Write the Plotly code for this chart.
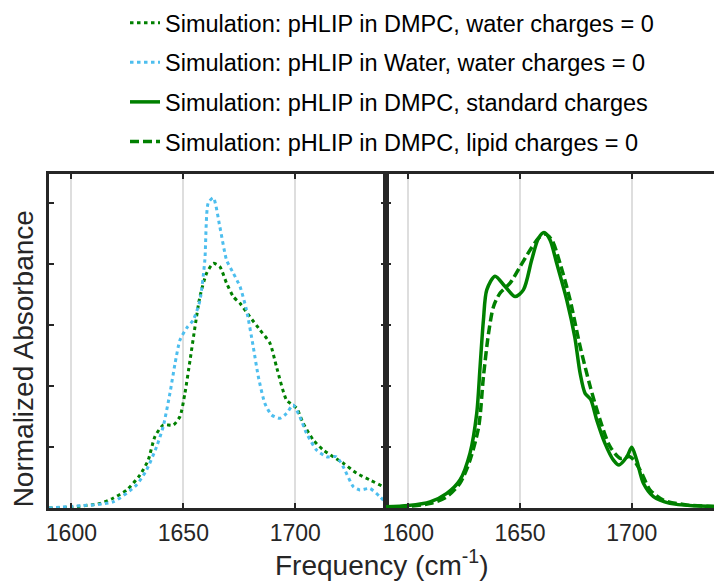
import plotly.graph_objects as go

# ---- data ----
water_x = [1590, 1600, 1618.6, 1629, 1633.6, 1638, 1641, 1644, 1646.3, 1648.5, 1651.5, 1654.4,
           1657.4, 1659.6, 1661.1, 1663.4, 1666.3, 1669.3, 1672.3, 1675.3, 1678.2, 1681.2,
           1683.5, 1686.4, 1689.4, 1693.1, 1696.1, 1699, 1702, 1705, 1709.5, 1714, 1718.4,
           1721.4, 1725.9, 1728.8, 1733.3, 1737.8, 1740.5]
water_y = [0, 0.005, 0.02, 0.075, 0.125, 0.2, 0.267, 0.376, 0.474, 0.551, 0.59, 0.616,
           0.68, 0.813, 1.0, 1.017, 0.922, 0.813, 0.77, 0.726, 0.649, 0.529,
           0.43, 0.343, 0.305, 0.294, 0.31, 0.338, 0.3, 0.245, 0.19, 0.168, 0.168,
           0.135, 0.07, 0.059, 0.064, 0.037, 0.016]

dmpc_w0_x = [1590, 1600, 1612.8, 1618.6, 1624.7, 1630.6, 1634.3, 1637.3, 1641, 1645.5, 1648.5,
             1650.7, 1653, 1655.2, 1657.4, 1660.4, 1663.4, 1666.3, 1669.3, 1672.3, 1675.3,
             1679.7, 1684.2, 1688.7, 1691.6, 1696.1, 1700.6, 1703.5, 1708, 1712.5, 1716.9,
             1721.4, 1727.4, 1733.3, 1739.3, 1740.5]
dmpc_w0_y = [0, 0.003, 0.015, 0.032, 0.059, 0.108, 0.157, 0.234, 0.272, 0.272, 0.3,
             0.376, 0.485, 0.594, 0.693, 0.77, 0.802, 0.791, 0.737, 0.693, 0.671,
             0.627, 0.584, 0.54, 0.463, 0.354, 0.327, 0.278, 0.223, 0.19, 0.168,
             0.147, 0.114, 0.092, 0.07, 0.066]

std_x = [1590, 1600, 1609.7, 1617.2, 1623.1, 1627.6, 1630.6, 1632.1, 1633.6, 1635.1, 1638.8,
         1643.3, 1647.8, 1651.5, 1655.2, 1658.2, 1660.7, 1663.4, 1666.4, 1670.9, 1674.5,
         1676.9, 1679.1, 1681.6, 1684.3, 1688, 1691.8, 1694.3, 1697.8, 1700, 1702.2,
         1705.2, 1709.7, 1717.1, 1729.1, 1737]
std_y = [0.004, 0.008, 0.02, 0.048, 0.092, 0.18, 0.31, 0.463, 0.616, 0.715, 0.76,
         0.726, 0.693, 0.715, 0.813, 0.884, 0.903, 0.879, 0.802, 0.682, 0.56,
         0.441, 0.376, 0.356, 0.289, 0.212, 0.157, 0.141, 0.168, 0.199, 0.157,
         0.081, 0.037, 0.015, 0.007, 0.005]

lip0_x = [1590, 1600, 1610, 1617.2, 1623.1, 1627.6, 1631.5, 1633.6, 1635.9, 1638.1, 1641,
          1645.5, 1650, 1654.5, 1658.2, 1661.2, 1664.2, 1667.9, 1672.4, 1676.9, 1681.4,
          1685.8, 1690.3, 1694.8, 1699.3, 1703.7, 1708.2, 1714.1, 1724.6, 1737]
lip0_y = [0.003, 0.006, 0.015, 0.037, 0.081, 0.157, 0.267, 0.43, 0.573, 0.66, 0.704,
          0.737, 0.791, 0.846, 0.884, 0.898, 0.879, 0.802, 0.682, 0.529, 0.398,
          0.289, 0.201, 0.163, 0.168, 0.125, 0.059, 0.026, 0.01, 0.005]

tick_vals = [1600, 1650, 1700]
tick_text = ["1600", "1650", "1700"]
y_ticks = [0, 0.2, 0.4, 0.6, 0.8, 1.0]

GREEN = "#008000"
BLUE = "#4DBEEE"
TXT = "#262626"
FONT = "Liberation Sans, Arial, Helvetica, sans-serif"

fig = go.Figure()
fig.add_trace(go.Scatter(x=dmpc_w0_x, y=dmpc_w0_y, mode="lines", xaxis="x", yaxis="y",
                         name="Simulation: pHLIP in DMPC, water charges = 0", legendgroup="a",
                         line=dict(color=GREEN, width=3, dash="3.5px,3.5px", shape="spline", smoothing=0.6)))
fig.add_trace(go.Scatter(x=water_x, y=water_y, mode="lines", xaxis="x", yaxis="y",
                         name="Simulation: pHLIP in Water, water charges = 0", legendgroup="b",
                         line=dict(color=BLUE, width=3, dash="3.5px,3.5px", shape="spline", smoothing=0.6)))
fig.add_trace(go.Scatter(x=std_x, y=std_y, mode="lines", xaxis="x2", yaxis="y2",
                         name="Simulation: pHLIP in DMPC, standard charges", legendgroup="c",
                         line=dict(color=GREEN, width=3.5, shape="spline", smoothing=0.8)))
fig.add_trace(go.Scatter(x=lip0_x, y=lip0_y, mode="lines", xaxis="x2", yaxis="y2",
                         name="Simulation: pHLIP in DMPC, lipid charges = 0", legendgroup="d",
                         line=dict(color=GREEN, width=3.5, dash="9px,4px", shape="spline", smoothing=0.8)))

W, H = 714, 582
ML, MR, MT, MB = 49, 0, 174, 74
PW, PH = W - ML - MR, H - MT - MB
split = 337 / PW
xcommon = dict(tickvals=tick_vals, ticktext=tick_text, ticks="inside", ticklen=5, tickwidth=2,
               tickcolor=TXT, showline=True, linecolor=TXT, linewidth=2.5, mirror="ticks",
               showgrid=True, gridcolor="#dedede", gridwidth=2, zeroline=False,
               ticklabelstandoff=3,
               tickfont=dict(family=FONT, size=23, color=TXT))
ycommon = dict(range=[0, 1.095], tickvals=y_ticks, ticks="inside", ticklen=5, tickwidth=2,
               tickcolor=TXT, showticklabels=False, showline=True, linecolor=TXT, linewidth=3,
               showgrid=False, zeroline=False)

fig.update_layout(
    width=W, height=H,
    margin=dict(l=ML, r=MR, t=MT, b=MB, autoexpand=False),
    plot_bgcolor="white", paper_bgcolor="white",
    xaxis=dict(domain=[0, split], range=[1590, 1740.5], anchor="y", **xcommon),
    xaxis2=dict(domain=[split, 1], range=[1590, 1736.8], anchor="y2", **xcommon),
    yaxis=dict(domain=[0, 1], anchor="x", mirror="ticks", **ycommon),
    yaxis2=dict(domain=[0, 1], anchor="x2", mirror=False, **ycommon),
    legend=dict(xref="paper", yref="paper", x=(125 - ML) / PW, y=(MT - 1) / PH + 1,
                xanchor="left", yanchor="top",
                font=dict(family=FONT, size=23.5, color="black"), tracegroupgap=6,
                bgcolor="rgba(0,0,0,0)", itemwidth=30),
    showlegend=True,
    annotations=[
        dict(text="Frequency (cm<sup>-1</sup>)", xref="paper", yref="paper", x=0.5, y=-0.165,
             xanchor="center", yanchor="middle", showarrow=False,
             font=dict(family=FONT, size=28, color=TXT)),
        dict(text="Normalized Absorbance", xref="paper", yref="paper", x=-26 / PW, y=0.445,
             xanchor="center", yanchor="middle", showarrow=False, textangle=-90,
             font=dict(family=FONT, size=28, color=TXT)),
    ],
)

fig.write_html("out.html")
